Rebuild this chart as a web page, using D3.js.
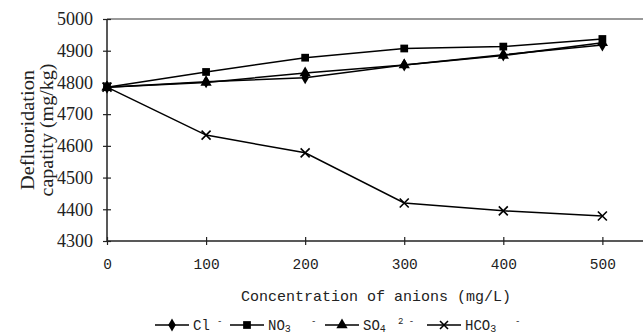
<!DOCTYPE html>
<html><head><meta charset="utf-8">
<script src="https://cdn.jsdelivr.net/npm/d3@7"></script>
<style>body{margin:0;background:#fff}svg{display:block}</style>
</head><body>
<svg id="c" width="643" height="335"></svg>
<script>
const concentrations = [0, 100, 200, 300, 400, 500];
const cl   = [4785, 4802, 4815, 4855, 4887, 4918];
const no3  = [4785, 4833, 4878, 4907, 4913, 4937];
const so4  = [4785, 4800, 4830, 4855, 4885, 4925];
const hco3 = [4785, 4634, 4578, 4420, 4395, 4379];
const yTicks = [4300, 4400, 4500, 4600, 4700, 4800, 4900, 5000];
const xTicks = [0, 100, 200, 300, 400, 500];

const series = [
  {name:"Cl", sub:"", sup:"-", values:cl, sym:"diamond"},
  {name:"NO", sub:"3", sup:"-", values:no3, sym:"square"},
  {name:"SO", sub:"4", sup:"2 -", values:so4, sym:"triangle"},
  {name:"HCO", sub:"3", sup:"-", values:hco3, sym:"x"}
];

const svg = d3.select("#c");
const x = d3.scaleLinear().domain([0, 541]).range([107, 643]);
const y = d3.scaleLinear().domain([4300, 5000]).range([241, 19]);

// top border
svg.append("line").attr("x1",107).attr("x2",643).attr("y1",y(5000)).attr("y2",y(5000))
  .attr("stroke","#777").attr("stroke-width",1.5);

// axes
const yAx = svg.append("g").attr("transform","translate(107,0)")
  .call(d3.axisLeft(y).tickValues(yTicks).tickSize(4).tickPadding(10).tickFormat(d3.format("d")));
yAx.selectAll(".tick line").attr("x2",-4).attr("x1",4);
yAx.select(".domain").attr("d",`M0,${y(4300)}V${y(5000)}`);
yAx.selectAll("text").attr("font-family","Liberation Serif").attr("font-size",18).attr("fill","#222");

const xAx = svg.append("g").attr("transform","translate(0,241)")
  .call(d3.axisBottom(x).tickValues(xTicks).tickSize(4).tickPadding(14).tickFormat(d3.format("d")));
xAx.selectAll(".tick line").attr("y1",-4).attr("y2",4);
xAx.select(".domain").attr("d",`M107,0H643`);
xAx.selectAll("text").attr("font-family","Liberation Mono").attr("font-size",14.5).attr("fill","#222");
svg.selectAll(".domain").attr("stroke","#222").attr("stroke-width",1.5);
svg.selectAll(".tick line").attr("stroke","#222").attr("stroke-width",1.2);

// axis titles
const yt = svg.append("text").attr("transform","translate(34,130) rotate(-90)")
  .attr("text-anchor","middle").attr("font-family","Liberation Serif").attr("font-size",19).attr("fill","#222");
yt.append("tspan").attr("x",0).attr("dy",0).attr("textLength",120).attr("lengthAdjust","spacingAndGlyphs").text("Defluoridation");
yt.append("tspan").attr("x",0).attr("dy",19).attr("textLength",133).attr("lengthAdjust","spacingAndGlyphs").text("capatity (mg/kg)");

svg.append("text").attr("x",376).attr("y",301).attr("text-anchor","middle")
  .attr("font-family","Liberation Mono").attr("font-size",15).attr("fill","#222")
  .text("Concentration of anions (mg/L)");

function marker(g, sym, cx, cy, s) {
  if (sym === "x") {
    g.append("path").attr("d",`M${cx-s},${cy-s}L${cx+s},${cy+s}M${cx-s},${cy+s}L${cx+s},${cy-s}`)
      .attr("stroke","#000").attr("stroke-width",1.6).attr("fill","none");
  } else {
    const t = sym === "diamond" ? d3.symbolDiamond : sym === "square" ? d3.symbolSquare : d3.symbolTriangle;
    const size = sym === "diamond" ? 50 : sym === "square" ? 60 : 55;
    g.append("path").attr("d", d3.symbol().type(t).size(size)())
      .attr("transform",`translate(${cx},${cy})`).attr("fill","#000");
  }
}

const line = d3.line().x((d,i)=>x(concentrations[i])).y(d=>y(d));
series.forEach(s => {
  svg.append("path").datum(s.values).attr("d", line)
    .attr("fill","none").attr("stroke","#000").attr("stroke-width",1.5);
  const g = svg.append("g");
  s.values.forEach((v,i) => marker(g, s.sym, x(concentrations[i]), y(v), s.sym==="x"?4.5:0));
});

// legend
const leg = svg.append("g");
const legX = [155, 230, 325, 427];
const supX = [217, 311, 398, 515];
series.forEach((s,i) => {
  const lx = legX[i], ly = 325;
  leg.append("line").attr("x1",lx).attr("x2",lx+34).attr("y1",ly).attr("y2",ly)
    .attr("stroke","#000").attr("stroke-width",1.5);
  marker(leg, s.sym, lx+17, ly, s.sym==="x"?4:0);
  const t = leg.append("text").attr("x",lx+38).attr("y",ly+5)
    .attr("font-family","Liberation Mono").attr("font-size",14).attr("fill","#222");
  t.append("tspan").text(s.name);
  if (s.sub) t.append("tspan").attr("font-size",10).attr("dy",2).text(s.sub);
  leg.append("text").attr("x",supX[i]).attr("y",ly-1)
    .attr("font-family","Liberation Mono").attr("font-size",9).attr("fill","#222").text(s.sup);
});
</script>
</body></html>
